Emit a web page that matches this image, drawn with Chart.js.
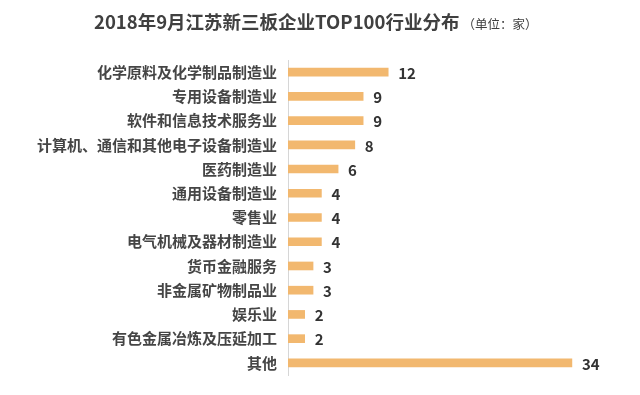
<!DOCTYPE html>
<html>
<head>
<meta charset="utf-8">
<script src="https://cdn.jsdelivr.net/npm/chart.js@4/dist/chart.umd.min.js"></script>
<style>
  html, body { margin: 0; padding: 0; background: #fff; }
  #wrap { width: 640px; height: 395px; position: relative; }
</style>
</head>
<body>
<div id="wrap"><canvas id="chart"></canvas></div>
<script>
// Chart data
const titleMain = "2018年9月江苏新三板企业TOP100行业分布";
const titleUnit = "（单位：家）";
const industries = [
  "化学原料及化学制品制造业",
  "专用设备制造业",
  "软件和信息技术服务业",
  "计算机、通信和其他电子设备制造业",
  "医药制造业",
  "通用设备制造业",
  "零售业",
  "电气机械及器材制造业",
  "货币金融服务",
  "非金属矿物制品业",
  "娱乐业",
  "有色金属冶炼及压延加工",
  "其他",
];
const companyCounts = [12, 9, 9, 8, 6, 4, 4, 4, 3, 3, 2, 2, 34];

const cjkFont = "'Noto Sans CJK SC', 'Noto Sans', sans-serif";
const textColor = "#404040";

// Title drawn by hand: two font sizes on one line
const titlePlugin = {
  id: "titlePlugin",
  afterDraw(chart) {
    const ctx = chart.ctx;
    ctx.save();
    ctx.textBaseline = "middle";
    ctx.fillStyle = textColor;
    ctx.font = "bold 18.5px " + cjkFont;
    const x0 = 94;
    ctx.fillText(titleMain, x0, 22);
    const w = ctx.measureText(titleMain).width;
    ctx.font = "12.5px " + cjkFont;
    ctx.fillText(titleUnit, x0 + w + 3, 24);
    ctx.restore();
  },
};

// Value labels at the end of each bar
const valueLabels = {
  id: "valueLabels",
  afterDatasetsDraw(chart) {
    const ctx = chart.ctx;
    const meta = chart.getDatasetMeta(0);
    ctx.save();
    ctx.font = "bold 15px " + cjkFont;
    ctx.fillStyle = "#333333";
    ctx.textBaseline = "middle";
    meta.data.forEach((bar, i) => {
      ctx.fillText(String(companyCounts[i]), bar.x + 10, bar.y + 1);
    });
    ctx.restore();
  },
};

new Chart(document.getElementById("chart"), {
  type: "bar",
  data: {
    labels: industries,
    datasets: [
      {
        data: companyCounts,
        backgroundColor: "#F2B86F",
        barThickness: 8,
      },
    ],
  },
  options: {
    indexAxis: "y",
    responsive: true,
    maintainAspectRatio: false,
    animation: false,
    layout: {
      padding: { top: 60, bottom: 16, left: 0, right: 18 },
    },
    plugins: {
      legend: { display: false },
      tooltip: { enabled: false },
      title: { display: false },
    },
    scales: {
      x: {
        display: false,
        min: 0,
        max: 40,
      },
      y: {
        afterFit(scale) {
          scale.width = 288;
        },
        grid: { display: false, drawTicks: false },
        border: { display: true, color: "#D6D6D6", width: 1 },
        ticks: {
          padding: 11,
          color: "#454545",
          font: { family: cjkFont, size: 15, weight: "bold" },
        },
      },
    },
  },
  plugins: [titlePlugin, valueLabels],
});
</script>
</body>
</html>
